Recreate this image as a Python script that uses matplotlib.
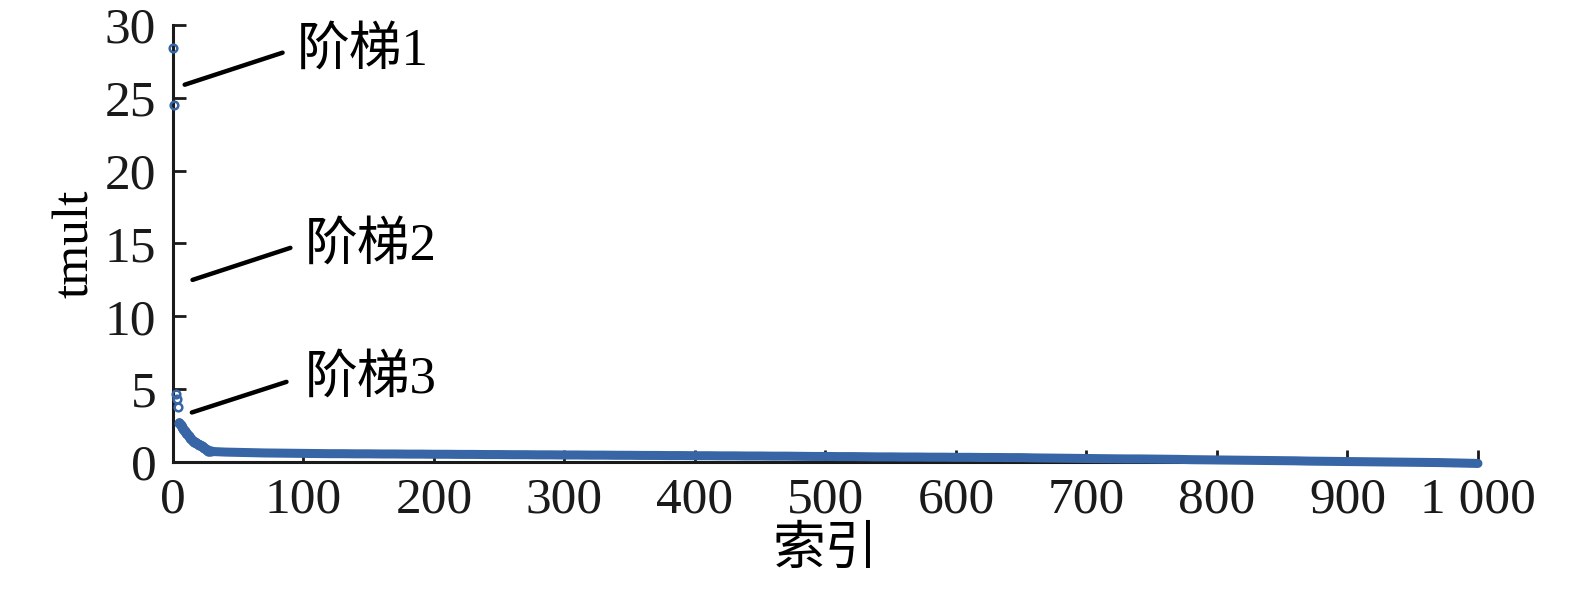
import numpy as np
import matplotlib
matplotlib.use("Agg")
import matplotlib.pyplot as plt

plt.rcParams["font.family"] = ["Liberation Serif", "Noto Sans CJK SC"]

# --- Data ---
# first points, one per index (0..29)
head_values = [28.4, 24.5, 4.7, 4.3, 3.8, 2.7, 2.55, 2.4, 2.25, 2.1,
               2.0, 1.9, 1.8, 1.65, 1.55, 1.45, 1.4, 1.35, 1.3, 1.25,
               1.2, 1.15, 1.1, 1.05, 0.95, 0.88, 0.82, 0.78, 0.75, 0.73]
# long tail, read every 10 indices (30..1000)
tail_values = [0.72, 0.68, 0.66, 0.64, 0.62, 0.61, 0.60, 0.59, 0.58, 0.57,
               0.57, 0.56, 0.56, 0.55, 0.55, 0.54, 0.54, 0.53, 0.53, 0.52,
               0.52, 0.51, 0.51, 0.50, 0.50, 0.49, 0.49, 0.48, 0.48, 0.47,
               0.47, 0.46, 0.46, 0.45, 0.45, 0.44, 0.44, 0.43, 0.43, 0.42,
               0.42, 0.41, 0.41, 0.40, 0.40, 0.39, 0.38, 0.38, 0.37, 0.37,
               0.36, 0.35, 0.35, 0.34, 0.34, 0.33, 0.33, 0.32, 0.32, 0.31,
               0.31, 0.30, 0.30, 0.28, 0.27, 0.26, 0.25, 0.24, 0.23, 0.22,
               0.21, 0.21, 0.20, 0.19, 0.18, 0.16, 0.15, 0.14, 0.13, 0.12,
               0.11, 0.10, 0.09, 0.08, 0.06, 0.05, 0.04, 0.03, 0.02, 0.01,
               0.0, -0.01, -0.02, -0.03, -0.04, -0.06, -0.08, -0.10]
head_index = list(range(len(head_values)))
tail_index = list(range(30, 1001, 10))

x_ticks = [0, 100, 200, 300, 400, 500, 600, 700, 800, 900, 1000]
x_tick_labels = ["0", "100", "200", "300", "400", "500", "600", "700", "800", "900", "1 000"]
y_ticks = [0, 5, 10, 15, 20, 25, 30]

# annotation: (label, line start, line end, text position) in data units
annotations = [
    ("阶梯1", (9, 25.9), (84, 28.1), (95, 28.2)),
    ("阶梯2", (15, 12.5), (90, 14.7), (101, 14.8)),
    ("阶梯3", (14.5, 3.4), (87, 5.5), (101, 5.7)),
]

blue = "#3765a5"

fig = plt.figure(figsize=(15.75, 5.91), dpi=100)
ax = fig.add_axes([0.1098, 0.2183, 0.8286, 0.7394])

# dense band (index 5 onwards)
band_x = head_index[5:] + tail_index
band_y = head_values[5:] + tail_values
ax.plot(band_x, band_y, color=blue, lw=6.5, solid_capstyle="round", clip_on=False, zorder=3)
# individual points at the start
ax.plot(head_index, head_values, "o", ms=5.5, mfc="none", mec=blue, mew=1.8,
        clip_on=False, zorder=3)

for label, p0, p1, pt in annotations:
    ax.plot([p0[0], p1[0]], [p0[1], p1[1]], color="black", lw=3.2,
            solid_capstyle="round", clip_on=False, zorder=4)
    ax.text(pt[0], pt[1], label, fontsize=38, va="center", ha="left")

ax.set_xlim(0, 1000)
ax.set_ylim(0, 30)
ax.set_xticks(x_ticks)
ax.set_xticklabels(x_tick_labels)
ax.set_yticks(y_ticks)
ax.tick_params(direction="in", length=9, width=2, labelsize=37, colors="#1a1a1a")
ax.tick_params(axis="x", pad=11)
ax.tick_params(axis="y", pad=12)

for side in ["top", "right"]:
    ax.spines[side].set_visible(False)
for side in ["left", "bottom"]:
    ax.spines[side].set_linewidth(2.2)
    ax.spines[side].set_color("#1a1a1a")

ax.set_xlabel("索引", fontsize=38, labelpad=2)
ax.set_ylabel("tmult", fontsize=37, labelpad=4)

fig.savefig("out.png", dpi=100)
